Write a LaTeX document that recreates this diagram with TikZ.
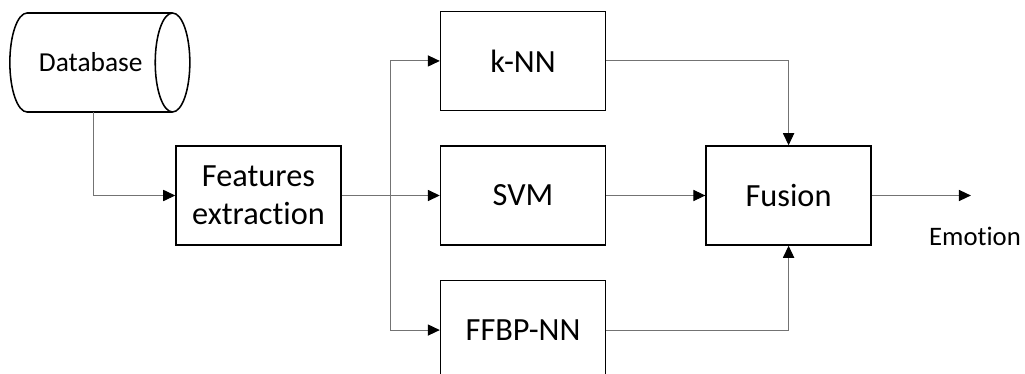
\documentclass[tikz,border=0pt]{standalone}
\usepackage{fontspec}
\setmainfont{Carlito}[Ligatures=NoCommon]
\usepackage{tikz}
\usetikzlibrary{positioning, shapes.geometric, arrows.meta, calc}

\begin{document}
\begin{tikzpicture}[
    block/.style={draw, line width=1.1pt, minimum width=4.125cm, minimum height=2.475cm,
      inner sep=0pt, align=center, font=\fontsize{23}{27}\selectfont},
    store/.style={cylinder, draw, line width=1.1pt, minimum height=4.5cm, minimum width=2.475cm,
      aspect=1.8, inner sep=0pt, font=\fontsize{19.5}{23}\selectfont},
    link/.style={draw=black!55, line width=0.7pt, -{Triangle[black, length=0.3cm, width=0.28cm]}},
  ]
    \useasboundingbox (0,0) rectangle (25.625,-9.35);

    % Source
    \node[store] (db) at (2.27,-1.5625) {Database};

    % Extraction et classifieurs
    \node[block] (feat) at (6.4625,-4.8875) {Features\\extraction};
    \node[block, right=2.45cm of feat] (svm) {SVM};
    \node[block, above=0.85cm of svm] (knn) {k-NN};
    \node[block, below=0.85cm of svm] (ffbp) {FFBP-NN};
    \node[block, right=2.475cm of svm] (fusion) {Fusion};

    % Sortie
    \coordinate[right=2.475cm of fusion.east] (out);
    \node[font=\fontsize{19}{23}\selectfont] (emo) at (24.375,-5.9) {Emotion};

    % Connexions
    \coordinate (dbout) at (2.325,-2.8);
    \coordinate (split) at (9.75,-4.8875);
    \draw[link] (dbout) |- (feat.west);
    \draw[link] (feat.east) -- (svm.west);
    \draw[link] (split) |- (knn.west);
    \draw[link] (split) |- (ffbp.west);
    \draw[link] (knn.east) -| (fusion.north);
    \draw[link] (svm.east) -- (fusion.west);
    \draw[link] (ffbp.east) -| (fusion.south);
    \draw[link] (fusion.east) -- (out);
  \end{tikzpicture}
\end{document}
